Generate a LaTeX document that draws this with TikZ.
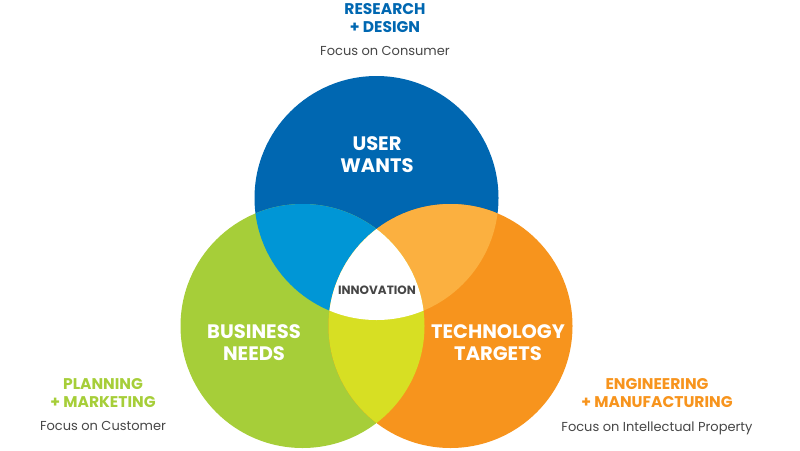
\documentclass[tikz,border=0pt]{standalone}
\usepackage{fontspec}
\setmainfont{Poppins}
\usetikzlibrary{positioning}
\definecolor{userblue}{RGB}{0,103,177}
\definecolor{userlight}{RGB}{0,150,214}
\definecolor{bizgreen}{RGB}{166,206,57}
\definecolor{techorange}{RGB}{247,148,29}
\definecolor{techlight}{RGB}{251,176,64}
\definecolor{bizyellow}{RGB}{215,223,35}
\definecolor{focusgrey}{RGB}{70,70,70}
\tikzset{
  circlabel/.style={text=white, font=\bfseries\fontsize{19.5}{22}\selectfont, align=center},
  headlabel/.style={font=\bfseries\fontsize{15.5}{18}\selectfont, align=center},
  focuslabel/.style={text=focusgrey, font=\fontsize{13}{15}\selectfont}
}
\begin{document}
\begin{tikzpicture}[x=1pt,y=-1pt]
\useasboundingbox (0,0) rectangle (800,450);
\coordinate (U) at (376.5,198);
\coordinate (B) at (302.5,326);
\coordinate (T) at (450.5,326);
% circles
\fill[userblue] (U) circle (122pt);
\fill[bizgreen] (B) circle (122pt);
\fill[techorange] (T) circle (122pt);
% overlaps
\begin{scope}
 \clip (U) circle (122pt);
 \fill[userlight] (B) circle (122pt);
 \fill[techlight] (T) circle (122pt);
\end{scope}
\begin{scope}
 \clip (B) circle (122pt);
 \fill[bizyellow] (T) circle (122pt);
\end{scope}
\begin{scope}
 \clip (U) circle (122pt);
 \clip (B) circle (122pt);
 \fill[white] (T) circle (122pt);
\end{scope}
% labels in circles
\node[circlabel] (user) at (377,155) {USER\\WANTS};
\node[circlabel] (business) at (254,343) {BUSINESS\\NEEDS};
\node[circlabel] (technology) at (498,343) {TECHNOLOGY\\TARGETS};
\node[text=focusgrey, font=\bfseries\fontsize{12}{14}\selectfont] (innovation) at (377,290) {INNOVATION};
% outer labels
\node[headlabel, text=userblue] (research) at (385,18) {RESEARCH\\+ DESIGN};
\node[focuslabel, below=7pt of research] (consumer) {Focus on Consumer};
\node[headlabel, text=bizgreen] (planning) at (103,393) {PLANNING\\+ MARKETING};
\node[focuslabel, below=7pt of planning] (customer) {Focus on Customer};
\node[headlabel, text=techorange] (engineering) at (657,393) {ENGINEERING\\+ MANUFACTURING};
\node[focuslabel, below=7pt of engineering] (property) {Focus on Intellectual Property};
\end{tikzpicture}
\end{document}
